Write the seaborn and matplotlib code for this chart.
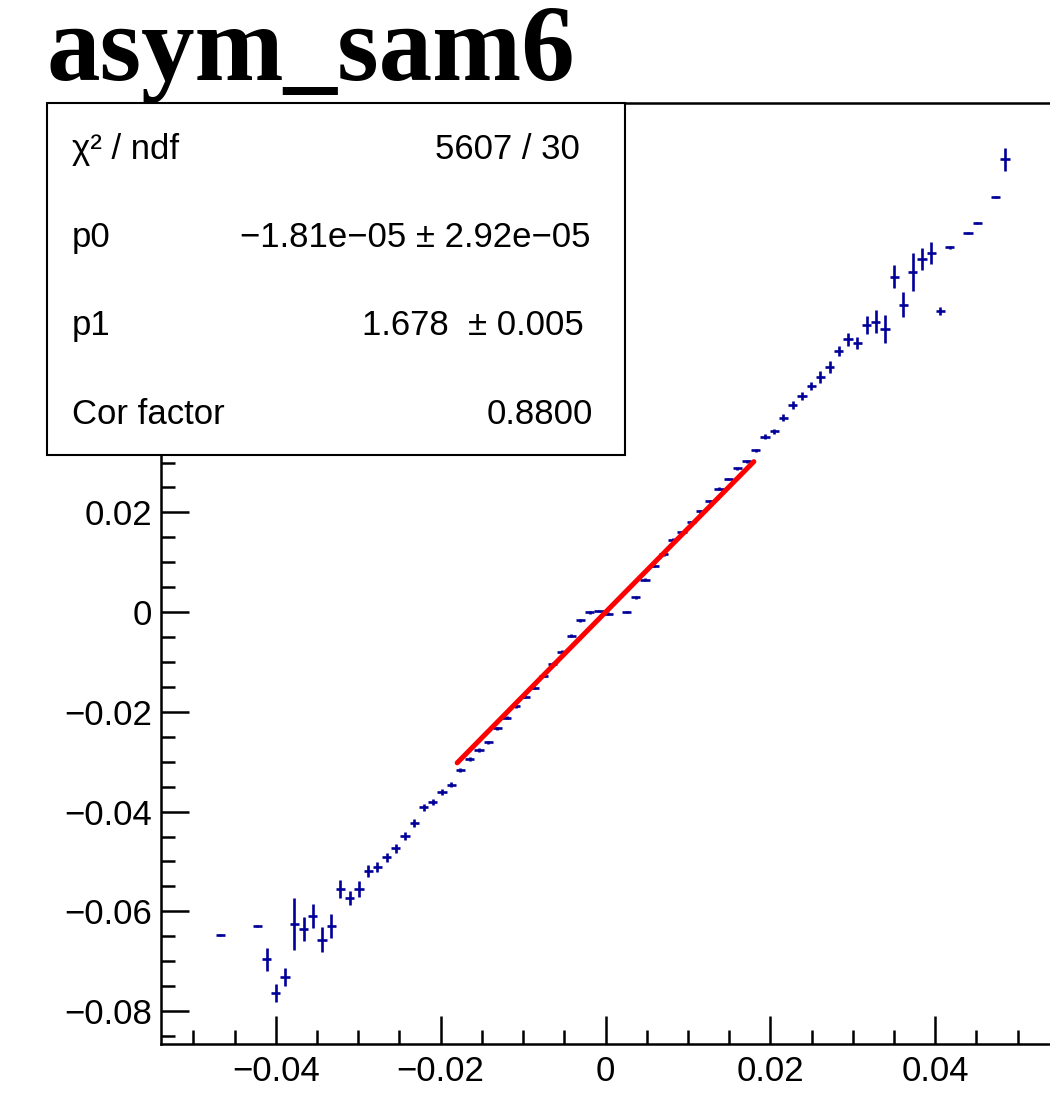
import numpy as np
import pandas as pd
import matplotlib
matplotlib.use('Agg')
import matplotlib.pyplot as plt
import matplotlib.patches as mpatches
from matplotlib.ticker import MultipleLocator, FuncFormatter
import seaborn as sns

# profile histogram (bin index, mean, error on mean)
title = 'asym_sam6'
bin_lo = -0.054
bin_w = 0.00112

bin_idx = [6, 10, 11, 12, 13, 14, 15, 16, 17, 18, 19, 20, 21, 22, 23, 24, 25, 26, 27, 28,
           29, 30, 31, 32, 33, 34, 35, 36, 37, 38, 39, 40, 41, 42, 43, 44, 45, 46, 47, 48,
           50, 51, 52, 53, 54, 55, 56, 57, 58, 59, 60, 61, 62, 63, 64, 65, 66, 67, 68, 69,
           70, 71, 72, 73, 74, 75, 76, 77, 78, 79, 80, 81, 82, 83, 84, 85, 87, 88, 90, 91]
y_mean = [-0.0647, -0.0630, -0.0696, -0.0764, -0.0732, -0.0625, -0.0635, -0.0609, -0.0657, -0.0630,
          -0.0555, -0.0573, -0.0555, -0.0520, -0.0512, -0.0492, -0.0473, -0.0448, -0.0423, -0.0391,
          -0.0380, -0.0361, -0.0346, -0.0317, -0.0295, -0.0276, -0.0261, -0.0233, -0.0212, -0.0189,
          -0.0170, -0.0152, -0.0128, -0.0103, -0.0079, -0.0047, -0.0016, 0.0000, 0.0002, -0.0003,
          0.0000, 0.0030, 0.0065, 0.0093, 0.0116, 0.0145, 0.0160, 0.0180, 0.0202, 0.0222,
          0.0247, 0.0267, 0.0289, 0.0303, 0.0325, 0.0352, 0.0363, 0.0390, 0.0415, 0.0434,
          0.0454, 0.0472, 0.0492, 0.0524, 0.0547, 0.0539, 0.0576, 0.0582, 0.0567, 0.0673,
          0.0616, 0.0683, 0.0709, 0.0721, 0.0604, 0.0732, 0.0760, 0.0780, 0.0833, 0.0908]
y_err = [0.0002, 0.0002, 0.0023, 0.0018, 0.0018, 0.0052, 0.0024, 0.0024, 0.0025, 0.0024,
         0.0018, 0.0014, 0.0016, 0.0012, 0.0010, 0.0010, 0.0009, 0.0008, 0.0008, 0.0007,
         0.0006, 0.0006, 0.0005, 0.0004, 0.0004, 0.0004, 0.0003, 0.0003, 0.0003, 0.0003,
         0.0003, 0.0003, 0.0003, 0.0003, 0.0003, 0.0003, 0.0003, 0.0003, 0.0002, 0.0003,
         0.0002, 0.0003, 0.0003, 0.0003, 0.0003, 0.0003, 0.0003, 0.0003, 0.0003, 0.0003,
         0.0003, 0.0003, 0.0003, 0.0003, 0.0003, 0.0005, 0.0005, 0.0007, 0.0008, 0.0008,
         0.0008, 0.0012, 0.0012, 0.0010, 0.0013, 0.0012, 0.0018, 0.0023, 0.0028, 0.0023,
         0.0025, 0.0038, 0.0022, 0.0022, 0.0008, 0.0003, 0.0002, 0.0002, 0.0002, 0.0023]

# linear fit pol1, drawn over the fit range
p0 = -1.81e-05
p1 = 1.678
fit_range = [-0.018, 0.018]
stat_names = ['χ² / ndf', 'p0', 'p1', 'Cor factor']
stat_values = ['5607 / 30', '−1.81e−05 ± 2.92e−05', '1.678  ± 0.005', '0.8800']

prof = pd.DataFrame({'bin': bin_idx, 'mean': y_mean, 'err': y_err})
prof['x'] = bin_lo + bin_w * (prof['bin'] + 0.5)
fit = pd.DataFrame({'x': fit_range})
fit['y'] = p0 + p1 * fit['x']

sns.set_theme(style='ticks')
plt.rcParams['font.family'] = ['Liberation Sans', 'DejaVu Sans']
plt.rcParams['axes.unicode_minus'] = True
for key in ('text.color', 'axes.labelcolor', 'xtick.color', 'ytick.color',
            'xtick.labelcolor', 'ytick.labelcolor', 'axes.edgecolor'):
    plt.rcParams[key] = 'black'

W, H = 1050, 1112
fig = plt.figure(figsize=(W / 100, H / 100), dpi=100)
fig.patch.set_facecolor('white')
ax = fig.add_axes([160.5 / W, 68 / H, 890.0 / W, 941 / H])
ax.set_facecolor('white')

ax.errorbar(prof['x'], prof['mean'], xerr=bin_w / 2, yerr=prof['err'], fmt='none',
            ecolor='#000099', elinewidth=1.9, capsize=0, zorder=2)
sns.lineplot(data=fit, x='x', y='y', color='#ff0000', linewidth=3.6, ax=ax, zorder=3,
             solid_capstyle='round')

ax.set_xlim(-0.054, 0.054)
ax.set_ylim(-0.0866, 0.1021)
ax.set_xlabel('')
ax.set_ylabel('')


def root_label(v, pos):
    if abs(v) < 1e-9:
        return '0'
    return f'{v:.2f}'.replace('-', '\u2212')


# y labels above 0.03 sit under the stats box
def y_label(v, pos):
    return '' if v > 0.03 else root_label(v, pos)


for axis in (ax.xaxis, ax.yaxis):
    axis.set_major_locator(MultipleLocator(0.02))
    axis.set_minor_locator(MultipleLocator(0.005))
ax.xaxis.set_major_formatter(FuncFormatter(root_label))
ax.yaxis.set_major_formatter(FuncFormatter(y_label))
ax.tick_params(which='both', direction='in', width=1.8, color='black', labelcolor='black',
               labelsize=25, top=False, right=False)
ax.tick_params(which='major', length=20)
ax.tick_params(which='minor', length=10)
ax.tick_params(axis='x', pad=8)
ax.tick_params(axis='y', pad=6)
for s in ax.spines.values():
    s.set_linewidth(1.8)
    s.set_color('black')

fig.text(47 / W, 1 - 80 / H, title, family='Liberation Serif', fontweight='bold',
         fontsize=77, va='baseline', ha='left', color='black')

box = mpatches.Rectangle((47 / W, 1 - 455 / H), 578 / W, 352 / H, transform=fig.transFigure,
                         facecolor='white', edgecolor='black', linewidth=1.5, zorder=5)
fig.add_artist(box)
baselines = [159, 247, 335, 424]
right_x = [580, 590, 584, 593]
for name, val, yb, xr in zip(stat_names, stat_values, baselines, right_x):
    fig.text(72 / W, 1 - yb / H, name, fontsize=25, va='baseline', ha='left', zorder=6,
             color='black')
    fig.text(xr / W, 1 - yb / H, val, fontsize=25, va='baseline', ha='right', zorder=6,
             color='black')

fig.savefig('out.png', dpi=100, facecolor='white')
